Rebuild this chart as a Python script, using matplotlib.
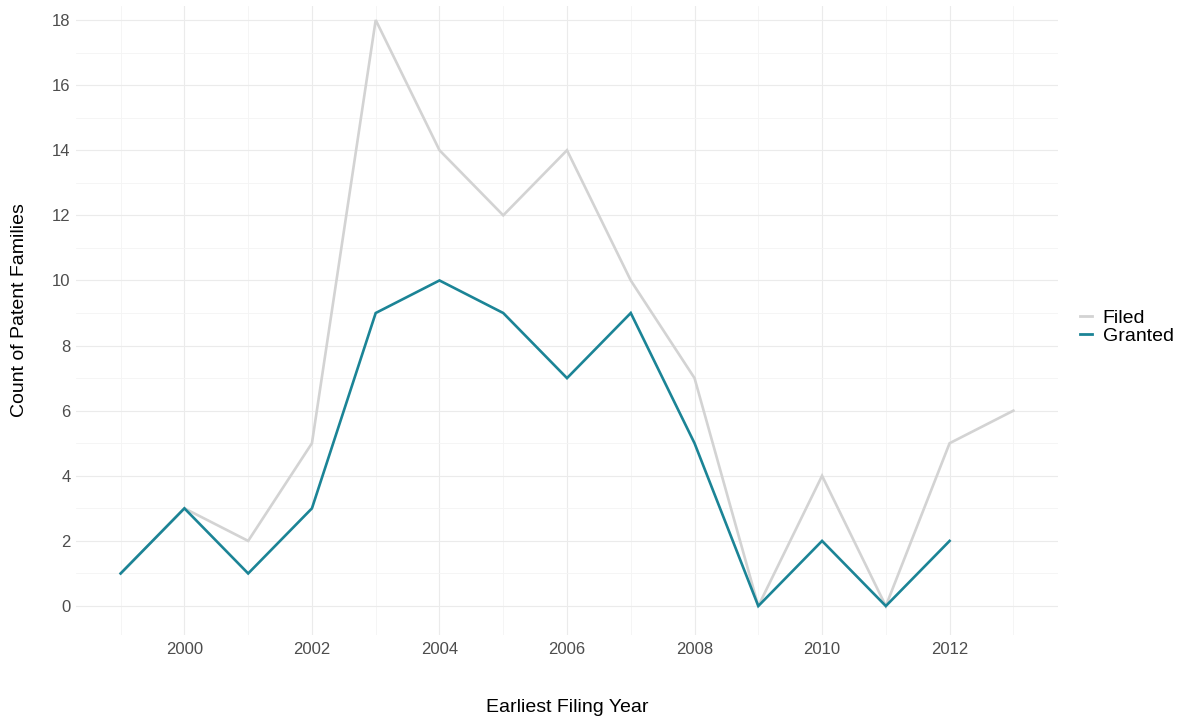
import matplotlib.pyplot as plt
from matplotlib.ticker import MultipleLocator
from matplotlib.lines import Line2D

plt.rcParams['font.family'] = ['Liberation Sans', 'DejaVu Sans']

filed_years = [1999, 2000, 2001, 2002, 2003, 2004, 2005, 2006, 2007, 2008, 2009, 2010, 2011, 2012, 2013]
filed = [1, 3, 2, 5, 18, 14, 12, 14, 10, 7, 0, 4, 0, 5, 6]
granted_years = [1999, 2000, 2001, 2002, 2003, 2004, 2005, 2006, 2007, 2008, 2009, 2010, 2011, 2012]
granted = [1, 3, 1, 3, 9, 10, 9, 7, 9, 5, 0, 2, 0, 2]

filed_col = '#d3d3d3'
granted_col = '#1b8496'

W, H = 1179, 720
fig = plt.figure(figsize=(W / 100, H / 100), dpi=100)
ax = fig.add_axes([76/W, 85/H, 982/W, 629/H])

ax.plot(filed_years, filed, color=filed_col, lw=1.9, solid_joinstyle='miter', zorder=3)
ax.plot(granted_years, granted, color=granted_col, lw=1.9, solid_joinstyle='miter', zorder=4)

ax.set_xlim(1998.3, 2013.7)
ax.set_ylim(-0.89, 18.43)
ax.xaxis.set_major_locator(MultipleLocator(2))
ax.xaxis.set_minor_locator(MultipleLocator(1))
ax.yaxis.set_major_locator(MultipleLocator(2))
ax.yaxis.set_minor_locator(MultipleLocator(1))
ax.grid(which='major', color='#ebebeb', lw=0.8)
ax.grid(which='minor', color='#f4f4f4', lw=0.6)
ax.set_axisbelow(True)
for s in ax.spines.values():
    s.set_visible(False)
ax.tick_params(which='both', length=0, labelsize=12, labelcolor='#4d4d4d')
ax.tick_params(axis='x', pad=5)
ax.tick_params(axis='y', pad=4)

fig.text(567/W, 1 - 708/H, 'Earliest Filing Year', fontsize=14, ha='center', va='center')
fig.text(20/W, 1 - 310/H, 'Count of Patent Families', fontsize=14, ha='center', va='center',
         rotation=90)

handles = [Line2D([], [], color=filed_col, lw=2), Line2D([], [], color=granted_col, lw=2)]
fig.legend(handles, ['Filed', 'Granted'], loc='center left', bbox_to_anchor=(1080/W, 1 - 327/H),
           frameon=False, fontsize=14, handlelength=0.62, handletextpad=0.55, labelspacing=0.0,
           borderpad=0, borderaxespad=0)

fig.savefig('out.png', dpi=100)
